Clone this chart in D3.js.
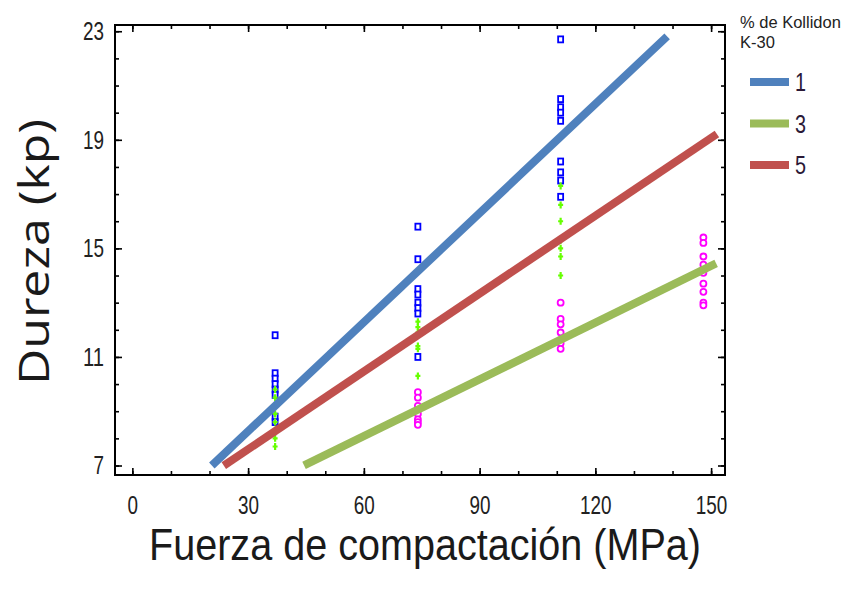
<!DOCTYPE html>
<html lang="es">
<head>
    <meta charset="UTF-8">
    <title>Dureza vs Fuerza</title>
    <style>
        body { margin: 0; background: #fff; }
        text { font-family: "Liberation Sans", Arial, sans-serif; }
    </style>
</head>
<body>
<script src="https://cdn.jsdelivr.net/npm/d3@7"></script>
<script>
    let w = 857, h = 591;
    let inner = {left: 115, right: 132, top: 25, bottom: 116};

    // % de Kollidon K-30
    let groups = ["1", "3", "5"];
    let lineColors = ["#4f81bd", "#9bbb59", "#c0504d"];
    let pointColors = ["#0000ff", "#66ff00", "#ff00ff"];

    // puntos medidos: fuerza (MPa) y dureza (kp)
    let forceK1 = [37, 37, 37, 37, 37, 37, 37, 37, 74, 74, 74, 74, 74, 74, 74, 74, 111, 111, 111, 111, 111, 111, 111, 111, 111];
    let hardK1 = [11.8, 10.4, 10.2, 10.0, 9.8, 9.6, 8.8, 8.6, 15.8, 14.6, 13.5, 13.3, 13.0, 12.8, 12.6, 11.0, 22.7, 20.5, 20.2, 20.0, 19.7, 18.2, 17.8, 17.5, 16.9];
    let forceK3 = [37, 37, 37, 37, 37, 37, 37, 37, 74, 74, 74, 74, 74, 74, 111, 111, 111, 111, 111, 111, 111];
    let hardK3 = [9.8, 9.5, 9.2, 8.9, 8.6, 8.3, 8.0, 7.7, 12.3, 12.1, 11.9, 11.4, 11.3, 10.3, 17.3, 16.6, 16.0, 15.3, 15.0, 14.7, 14.0];
    let forceK5 = [74, 74, 74, 74, 74, 74, 74, 111, 111, 111, 111, 111, 111, 148, 148, 148, 148, 148, 148, 148, 148, 148];
    let hardK5 = [9.7, 9.5, 9.2, 8.9, 8.7, 8.6, 8.5, 13.0, 12.4, 12.2, 11.9, 11.5, 11.3, 15.4, 15.2, 14.7, 14.4, 14.1, 13.7, 13.4, 13.0, 12.9];

    // rectas ajustadas: dureza = a + b * fuerza
    let fitA = [4.24, 3.90, 4.73];
    let fitB = [0.134, 0.0697, 0.0956];
    let fitFrom = [20.6, 44.5, 23.7];
    let fitTo = [138.6, 151.3, 151.5];

    let xMajor = [0, 30, 60, 90, 120, 150];
    let yMajor = [7, 11, 15, 19, 23];
    let xMinor = [0, 10, 20, 30, 40, 50, 60, 70, 80, 90, 100, 110, 120, 130, 140, 150];
    let yMinor = [7, 8, 9, 10, 11, 12, 13, 14, 15, 16, 17, 18, 19, 20, 21, 22, 23];

    let svg = d3.select("body")
        .append("svg")
        .attr("width", w)
        .attr("height", h);

    let x = d3.scaleLinear()
        .domain([-4.5, 153.6])
        .range([inner.left, w - inner.right]);
    let y = d3.scaleLinear()
        .domain([6.65, 23.23])
        .range([h - inner.bottom, inner.top]);

    let x0 = inner.left, x1 = w - inner.right;
    let y0 = h - inner.bottom, y1 = inner.top;

    // puntos
    let pts = [
        {f: forceK5, d: hardK5, c: pointColors[2], shape: "circle"},
        {f: forceK1, d: hardK1, c: pointColors[0], shape: "square"},
        {f: forceK3, d: hardK3, c: pointColors[1], shape: "plus"}
    ];

    pts.forEach(function (s) {
        let g = svg.append("g");
        s.f.forEach(function (fv, i) {
            let px = x(fv), py = y(s.d[i]);
            if (s.shape === "square") {
                g.append("rect").attr("x", px - 2.5).attr("y", py - 3).attr("width", 5).attr("height", 6)
                    .attr("fill", "#fff").attr("stroke", s.c).attr("stroke-width", 1.8);
            } else if (s.shape === "circle") {
                g.append("circle").attr("cx", px).attr("cy", py).attr("r", 3)
                    .attr("fill", "#fff").attr("stroke", s.c).attr("stroke-width", 1.8);
            } else {
                g.append("path").attr("d", "M" + (px - 2.5) + "," + py + "h5M" + px + "," + (py - 3.5) + "v7")
                    .attr("stroke", s.c).attr("stroke-width", 2.2);
            }
        });
    });

    // rectas de regresion
    groups.forEach(function (gname, i) {
        let seg = [fitFrom[i], fitTo[i]].map(v => [v, fitA[i] + fitB[i] * v]);
        svg.append("path")
            .datum(seg)
            .attr("d", d3.line().x(d => x(d[0])).y(d => y(d[1])))
            .attr("fill", "none")
            .attr("stroke", lineColors[i])
            .attr("stroke-width", 8);
    });

    // ejes: ticks hacia dentro en los cuatro lados
    function addAxis(axis, tx, ty) {
        let g = svg.append("g")
            .attr("transform", "translate(" + tx + "," + ty + ")")
            .call(axis);
        g.select(".domain").remove();
        g.selectAll(".tick line").attr("stroke", "#000").attr("stroke-width", 1.6);
        return g;
    }

    addAxis(d3.axisBottom(x).tickValues(xMinor).tickSize(-4).tickFormat(""), 0, y0);
    addAxis(d3.axisTop(x).tickValues(xMinor).tickSize(-4).tickFormat(""), 0, y1);
    addAxis(d3.axisTop(x).tickValues(xMajor).tickSize(-7).tickFormat(""), 0, y1);
    addAxis(d3.axisLeft(y).tickValues(yMinor).tickSize(-4).tickFormat(""), x0, 0);
    addAxis(d3.axisRight(y).tickValues(yMinor).tickSize(-4).tickFormat(""), x1, 0);
    addAxis(d3.axisRight(y).tickValues(yMajor).tickSize(-7).tickFormat(""), x1, 0);

    let xAxisG = addAxis(d3.axisBottom(x).tickValues(xMajor).tickSize(-7).tickPadding(21), 0, y0);
    xAxisG.selectAll(".tick text")
        .attr("textLength", d => String(d).length * 10.5)
        .attr("lengthAdjust", "spacingAndGlyphs")
        .style("font-family", "'Liberation Sans', Arial, sans-serif")
        .style("font-size", "25px")
        .style("fill", "#222");

    let yAxisG = addAxis(d3.axisLeft(y).tickValues(yMajor).tickSize(-7).tickPadding(11), x0, 0);
    yAxisG.selectAll(".tick text")
        .attr("textLength", d => String(d).length * 10.5)
        .attr("lengthAdjust", "spacingAndGlyphs")
        .style("font-family", "'Liberation Sans', Arial, sans-serif")
        .style("font-size", "26px")
        .style("fill", "#222");

    svg.append("rect")
        .attr("x", x0)
        .attr("y", y1)
        .attr("width", x1 - x0)
        .attr("height", y0 - y1)
        .attr("fill", "none")
        .attr("stroke", "#000")
        .attr("stroke-width", 2);

    // titulos
    svg.append("text")
        .attr("x", 425)
        .attr("y", 560)
        .attr("text-anchor", "middle")
        .attr("textLength", 552)
        .attr("lengthAdjust", "spacingAndGlyphs")
        .style("font-size", "44px")
        .style("fill", "#1a1a1a")
        .text("Fuerza de compactación (MPa)");

    svg.append("text")
        .attr("transform", "translate(49,252) rotate(-90)")
        .attr("text-anchor", "middle")
        .attr("textLength", 266)
        .attr("lengthAdjust", "spacingAndGlyphs")
        .style("font-family", "'Open Sans', sans-serif")
        .style("font-size", "42px")
        .style("fill", "#1a1a1a")
        .text("Dureza (kp)");

    // leyenda (titulo en dos lineas)
    let leg = svg.append("g");
    let legTitle = leg.append("text")
        .style("font-size", "16.5px")
        .style("fill", "#222");
    legTitle.append("tspan").attr("x", 740).attr("y", 28).text("% de Kollidon");
    legTitle.append("tspan").attr("x", 740).attr("dy", 20).text("K-30");

    groups.forEach(function (gname, i) {
        let ly = 82 + i * 41.5;
        leg.append("line").attr("x1", 750).attr("x2", 789).attr("y1", ly).attr("y2", ly)
            .attr("stroke", lineColors[i]).attr("stroke-width", 8);
        leg.append("text")
            .attr("x", 795)
            .attr("y", ly + 9)
            .attr("textLength", 11)
            .attr("lengthAdjust", "spacingAndGlyphs")
            .style("font-size", "26px")
            .style("fill", "#2a1836")
            .text(gname);
    });
</script>
</body>
</html>
